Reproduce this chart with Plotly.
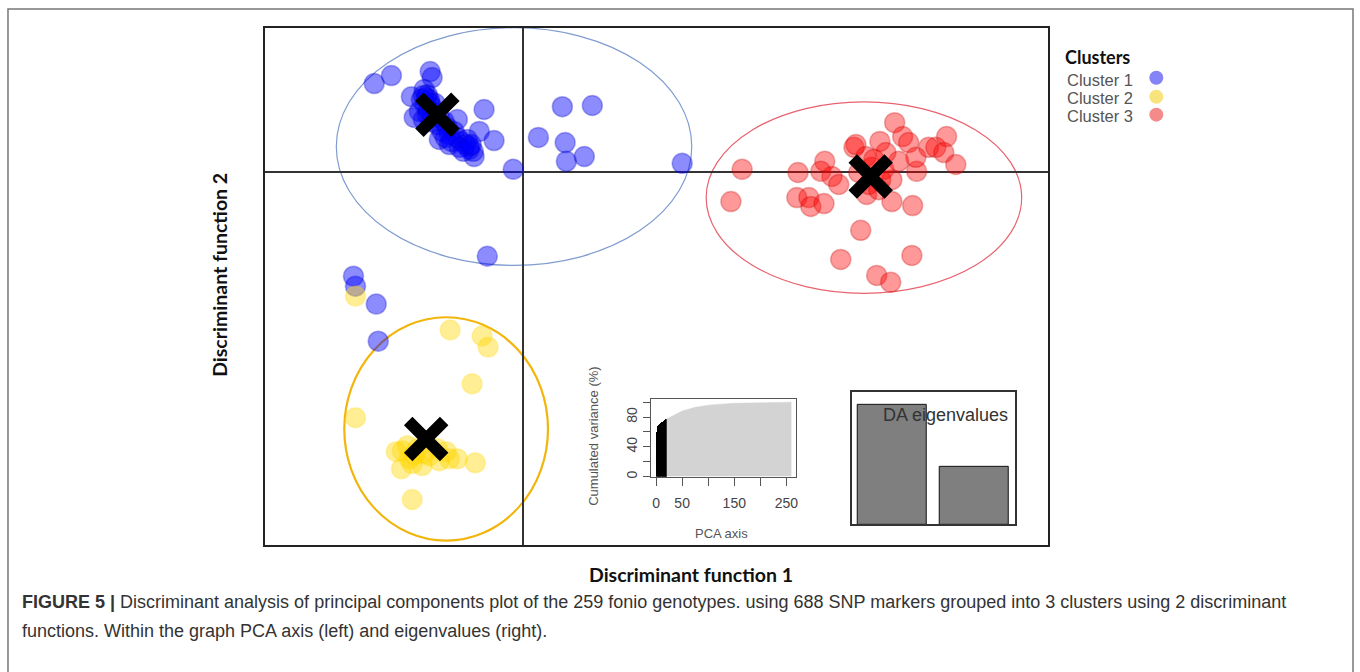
import plotly.graph_objects as go

W, H = 1360, 672

def px(x):
    return x / W

def py(y):
    return (H - y) / H

# ---------------- data (discriminant function scores) ----------------
c1_x = [-3.73, -3.30, -2.33, -2.28, -2.80, -2.73, -0.98, -1.65, -1.10, -0.73, -2.10, -1.85, -1.35, -1.23,
        0.98, 1.73, 0.38, 1.05, 1.08, 1.53, -0.25, 3.98, -0.90, -4.25, -4.20, -3.68, -3.63,
        -2.48, -2.40, -2.55, -2.35, -2.45, -2.28, -2.60, -2.40, -2.20, -2.10, -2.30, -2.15, -1.98, -1.90,
        -2.03, -1.85, -1.73, -1.65, -1.55, -1.45, -1.35, -1.25, -1.40, -1.60, -1.80, -2.20, -2.50, -1.95,
        -1.50, -1.30, -2.43, -2.33, -2.50, -2.38]
c1_y = [2.23, 2.43, 2.53, 2.38, 1.90, 1.38, 1.58, 1.33, 1.03, 0.80, 0.83, 0.70, 0.65, 0.40,
        1.65, 1.68, 0.88, 0.75, 0.28, 0.40, 0.08, 0.23, -2.10, -2.60, -2.85, -3.30, -4.23,
        2.08, 1.95, 1.83, 1.83, 1.68, 1.63, 1.53, 1.45, 1.50, 1.38, 1.28, 1.20, 1.28, 1.13,
        1.03, 0.95, 1.03, 0.88, 0.78, 0.70, 0.58, 0.53, 0.83, 0.63, 0.78, 1.73, 1.33, 0.88,
        0.53, 0.70, 1.88, 1.73, 1.93, 1.58]

c2_x = [-4.20, -1.83, -1.03, -0.88, -1.28, -4.20, -2.78, -1.20,
        -3.03, -3.05, -2.85, -2.53, -2.35, -1.93, -1.85, -1.65, -2.65, -2.15, -3.18, -2.78,
        -2.90, -2.48, -2.10, -2.73]
c2_y = [-3.10, -3.95, -4.10, -4.38, -5.30, -6.15, -8.20, -7.28,
        -6.98, -7.43, -7.18, -7.35, -7.10, -7.00, -7.18, -7.18, -6.93, -6.93, -7.00, -7.30,
        -6.85, -7.05, -7.23, -7.08]

c3_x = [5.48, 5.20, 6.88, 7.55, 7.45, 7.73, 7.90, 6.85, 7.15, 7.20, 7.53, 8.28, 8.33, 8.93, 9.30,
        9.50, 9.65, 10.15, 10.33, 10.60, 10.53, 10.83, 9.85, 9.83, 9.40, 9.23, 8.73, 8.58, 9.08,
        9.23, 9.75, 8.60, 8.45, 7.95, 9.73, 8.85, 9.20, 8.40, 8.95, 8.78, 9.03, 8.65, 8.90]
c3_y = [0.08, -0.73, 0.00, 0.28, 0.03, -0.10, -0.30, -0.63, -0.63, -0.85, -0.78, 0.63, 0.70, 0.78, 1.25,
        0.90, 0.75, 0.63, 0.63, 0.90, 0.50, 0.20, 0.03, 0.38, 0.28, -0.18, 0.13, 0.40, 0.50,
        -0.73, -0.83, -0.55, -1.45, -2.18, -2.08, -2.58, -2.75, 0.00, -0.18, 0.33, 0.08, -0.30, -0.43]

centroid_x = [-2.15, -2.43, 8.70]
centroid_y = [1.45, -6.68, -0.10]

# ellipses: centre x, centre y, half width, half height
ell_cx = [-0.23, -1.93, 8.53]
ell_cy = [0.65, -6.43, -0.63]
ell_ax = [4.45, 2.55, 3.95]
ell_ay = [2.98, 2.80, 2.40]

cluster_names = ["Cluster 1", "Cluster 2", "Cluster 3"]

# inset: cumulated variance of PCA axes
pca_kept_axis = list(range(1, 21))
pca_kept_var = [44, 60, 66, 68, 69, 70, 71, 71.5, 72, 72.5, 73, 73.5, 74, 74.5, 75, 75.5, 76, 76.5, 77, 77.5]
pca_rest_axis = [20.5, 30, 40, 50, 75, 100, 150, 200, 259.5]
pca_rest_var = [77.5, 81, 84, 88, 93, 96, 98.5, 99.5, 100]
pca_xticks = [0, 50, 100, 150, 200, 250]
pca_xticktext = ["0", "50", "", "150", "", "250"]
pca_yticks = [0, 20, 40, 60, 80, 100]
pca_yticktext = ["0", "", "40", "", "80", ""]

# inset: DA eigenvalues
da_axis = [1, 2]
da_eig = [100, 48.3]

# ---------------- styling ----------------
fill = ["rgba(0,0,255,0.45)", "rgba(255,215,0,0.42)", "rgba(255,0,0,0.40)"]
edge = ["rgba(0,0,200,0.30)", "rgba(255,215,0,0.25)", "rgba(200,0,0,0.30)"]
ell_col = ["#7f9bd0", "#f2b50c", "#e8626f"]
ell_w = [1.2, 2.2, 1.2]
leg_col = ["#8484f6", "#f8e37c", "#f58a8a"]

fig = go.Figure()

for xs, ys, i in [(c1_x, c1_y, 0), (c2_x, c2_y, 1), (c3_x, c3_y, 2)]:
    fig.add_trace(go.Scatter(x=xs, y=ys, mode="markers", name=cluster_names[i],
                             marker=dict(size=20, color=fill[i], line=dict(color=edge[i], width=1.5)),
                             xaxis="x", yaxis="y", showlegend=False))

fig.add_trace(go.Scatter(x=centroid_x, y=centroid_y, mode="markers",
                         marker=dict(symbol="x-thin", size=36, color="black",
                                     line=dict(width=12, color="black")),
                         xaxis="x", yaxis="y", showlegend=False))

# PCA inset
fig.add_trace(go.Scatter(x=pca_rest_axis, y=pca_rest_var, mode="lines", fill="tozeroy",
                         line=dict(color="#d3d3d3", width=0.5), fillcolor="#d3d3d3",
                         xaxis="x2", yaxis="y2", showlegend=False))
fig.add_trace(go.Bar(x=pca_kept_axis, y=pca_kept_var, width=1,
                     marker=dict(color="black", line=dict(width=0)),
                     xaxis="x2", yaxis="y2", showlegend=False))

# DA eigenvalue inset
fig.add_trace(go.Bar(x=da_axis, y=da_eig, width=0.836,
                     marker=dict(color="#7f7f7f", line=dict(color="#111", width=1)),
                     xaxis="x3", yaxis="y3", showlegend=False))

shapes = []
for i in range(3):
    shapes.append(dict(type="circle", xref="x", yref="y",
                       x0=ell_cx[i] - ell_ax[i], x1=ell_cx[i] + ell_ax[i],
                       y0=ell_cy[i] - ell_ay[i], y1=ell_cy[i] + ell_ay[i],
                       line=dict(color=ell_col[i], width=ell_w[i]), layer="below"))
# outer figure frame
shapes.append(dict(type="rect", xref="paper", yref="paper", x0=px(8), x1=px(1355), y0=-0.1, y1=py(9),
                   line=dict(color="#777", width=1.5)))
# legend dots
for i, yy in enumerate([78, 97, 115]):
    shapes.append(dict(type="circle", xref="paper", yref="paper",
                       x0=px(1151), x1=px(1165), y0=py(yy + 7), y1=py(yy - 7),
                       fillcolor=leg_col[i], line=dict(width=0)))

def ann(text, x, y, size, family, color, xanchor="center", angle=0):
    return dict(text=text, x=px(x), y=py(y), xref="paper", yref="paper", xanchor=xanchor,
                yanchor="middle", textangle=angle, font=dict(family=family, size=size, color=color),
                showarrow=False)

SANS = "Liberation Sans, Arial"
BOLD = "Lato, Open Sans"

annotations = [ann("<b>Clusters</b>", 1065, 57, 18, BOLD, "#111", xanchor="left")]
for i, yy in enumerate([80, 98, 116]):
    annotations.append(ann(cluster_names[i], 1067, yy, 16.5, SANS, "#555", xanchor="left"))
annotations += [
    ann("<b>Discriminant function 1</b>", 692, 576, 19.5, BOLD, "#111"),
    ann("<b>Discriminant function 2</b>", 220, 276, 19.5, BOLD, "#111", angle=-90),
    ann("Cumulated variance (%)", 595, 438, 13, SANS, "#555", angle=-90),
    ann("PCA axis", 723, 535, 13, SANS, "#555"),
    ann("DA eigenvalues", 947, 416, 18, SANS, "#333"),
    ann("<b>FIGURE 5 |</b> Discriminant analysis of principal components plot of the 259 fonio genotypes. "
        "using 688 SNP markers grouped into 3 clusters using 2 discriminant", 20, 604, 18, SANS, "#333",
        xanchor="left"),
    ann("functions. Within the graph PCA axis (left) and eigenvalues (right).", 20, 633, 18, SANS, "#333",
        xanchor="left"),
]

fig.update_layout(
    width=W, height=H, margin=dict(l=0, r=0, t=0, b=0),
    paper_bgcolor="white", plot_bgcolor="white",
    showlegend=False, bargap=0,
    shapes=shapes, annotations=annotations,
    xaxis=dict(domain=[px(265), px(1050)], range=[-6.475, 13.15], showgrid=False, showticklabels=False,
               ticks="", zeroline=True, zerolinecolor="#333", zerolinewidth=1.5,
               showline=True, mirror=True, linecolor="#222", linewidth=2, fixedrange=True),
    yaxis=dict(domain=[py(547), py(28)], range=[-9.35, 3.625], showgrid=False, showticklabels=False,
               ticks="", zeroline=True, zerolinecolor="#333", zerolinewidth=1.5,
               showline=True, mirror=True, linecolor="#222", linewidth=2, fixedrange=True),
    xaxis2=dict(domain=[px(652), px(797)], range=[-9.6, 268], anchor="y2", showgrid=False, zeroline=False,
                showline=True, mirror=True, linecolor="#555", linewidth=1,
                ticks="outside", ticklen=8, tickcolor="#555", tickvals=pca_xticks, ticktext=pca_xticktext,
                ticklabelstandoff=6,
                tickfont=dict(family=SANS, size=14, color="#444")),
    yaxis2=dict(domain=[py(478), py(400)], range=[0, 104.5], anchor="x2", showgrid=False, zeroline=False,
                showline=True, mirror=True, linecolor="#555", linewidth=1,
                ticks="outside", ticklen=7, tickcolor="#555", tickvals=pca_yticks, ticktext=pca_yticktext,
                tickangle=-90, tickfont=dict(family=SANS, size=14, color="#444")),
    xaxis3=dict(domain=[px(853), px(1016)], range=[0.51, 2.49], anchor="y3", showgrid=False, zeroline=False,
                showticklabels=False, ticks="", showline=True, mirror=True, linecolor="#333", linewidth=1.5),
    yaxis3=dict(domain=[py(526), py(393)], range=[0, 110.8], anchor="x3", showgrid=False, zeroline=False,
                showticklabels=False, ticks="", showline=True, mirror=True, linecolor="#333", linewidth=1.5),
)

fig.write_html("out.html")
